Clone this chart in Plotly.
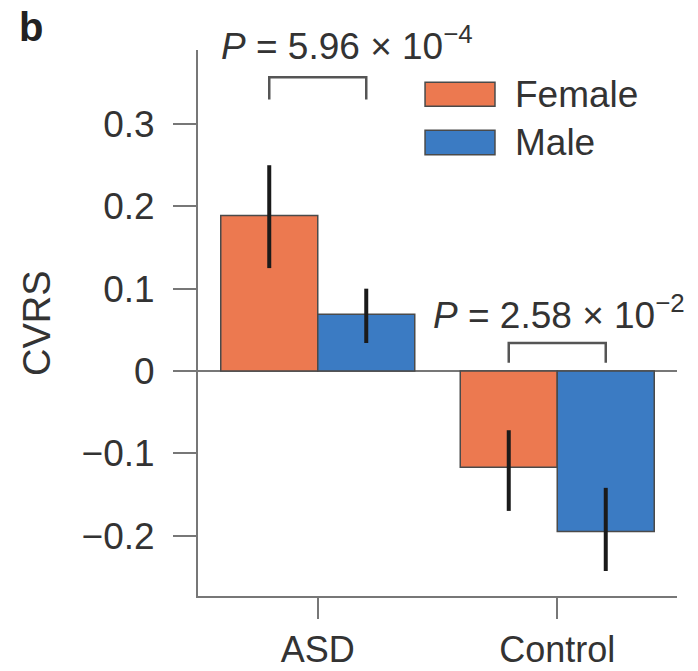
import plotly.graph_objects as go

# CVRS by diagnosis group and sex
groups = ["ASD", "Control"]
female_cvrs = [0.189, -0.117]
male_cvrs = [0.069, -0.195]
female_err_up = [0.061, 0.045]
female_err_down = [0.064, 0.053]
male_err_up = [0.031, 0.053]
male_err_down = [0.035, 0.048]
y_ticks = [-0.2, -0.1, 0, 0.1, 0.2, 0.3]
y_tick_labels = ["\u22120.2", "\u22120.1", "0", "0.1", "0.2", "0.3"]
p_labels = ["<i>P</i> = 5.96 \u00d7 10<sup>\u22124</sup>",
            "<i>P</i> = 2.58 \u00d7 10<sup>\u22122</sup>"]

ORANGE = "#EC7950"
BLUE = "#3B7BC3"
AXIS = "#777777"
TEXT = "#333333"
FONT = "Liberation Sans, Arial, sans-serif"
BARGAP = 0.19

fig = go.Figure()
fig.add_trace(go.Bar(
    x=groups, y=female_cvrs, name="Female",
    marker=dict(color=ORANGE, line=dict(color="#4a4a4a", width=1.5)),
    error_y=dict(type="data", symmetric=False, array=female_err_up,
                 arrayminus=female_err_down, color="#1a1a1a", thickness=4, width=0),
    showlegend=False,
))
fig.add_trace(go.Bar(
    x=groups, y=male_cvrs, name="Male",
    marker=dict(color=BLUE, line=dict(color="#4a4a4a", width=1.5)),
    error_y=dict(type="data", symmetric=False, array=male_err_up,
                 arrayminus=male_err_down, color="#1a1a1a", thickness=4, width=0),
    showlegend=False,
))

# significance brackets between the two bar centres of each group
half = (1 - BARGAP) / 4
brackets = [(0, 0.357, 0.330), (1, 0.034, 0.010)]
for xc, ytop, yleg in brackets:
    fig.add_shape(type="path", xref="x", yref="y",
                  path=f"M {xc - half} {yleg} L {xc - half} {ytop} L {xc + half} {ytop} L {xc + half} {yleg}",
                  line=dict(color="#555555", width=2.5))

fig.add_annotation(text=p_labels[0], xref="paper", yref="paper", x=0.311, y=1.012,
                   xanchor="center", yanchor="middle", showarrow=False,
                   font=dict(size=37, color=TEXT, family=FONT))
fig.add_annotation(text=p_labels[1], xref="paper", yref="paper", x=0.754, y=0.52,
                   xanchor="center", yanchor="middle", showarrow=False,
                   font=dict(size=37, color=TEXT, family=FONT))

# legend drawn as swatches + labels
legend_items = [("Female", ORANGE, 0.941, 0.897), ("Male", BLUE, 0.853, 0.808)]
for label, col, y1, y0 in legend_items:
    fig.add_shape(type="rect", xref="paper", yref="paper",
                  x0=0.474, x1=0.620, y0=y0, y1=y1,
                  fillcolor=col, line=dict(color="#4a4a4a", width=1.5))
    fig.add_annotation(text=label, xref="paper", yref="paper", x=0.658, y=(y0 + y1) / 2,
                       xanchor="left", yanchor="middle", showarrow=False,
                       font=dict(size=37, color=TEXT, family=FONT))

# y-axis title and panel letter
fig.add_annotation(text="CVRS", xref="paper", yref="paper", x=-0.336, y=0.5,
                   textangle=-90, xanchor="center", yanchor="middle", showarrow=False,
                   font=dict(size=38, color=TEXT, family=FONT))
fig.add_annotation(text="<b>b</b>", xref="paper", yref="paper", x=-0.377, y=1.043,
                   xanchor="left", yanchor="middle", showarrow=False,
                   font=dict(size=40, color="#222222", family=FONT))

fig.update_layout(
    width=698, height=671,
    margin=dict(l=198, r=21, t=50, b=75, autoexpand=False),
    paper_bgcolor="white", plot_bgcolor="white",
    barmode="group", bargap=BARGAP, bargroupgap=0,
    font=dict(family=FONT, size=37, color=TEXT),
)
fig.update_xaxes(
    automargin=False,
    showline=True, linecolor=AXIS, linewidth=2, mirror=False,
    ticks="outside", ticklen=21, tickwidth=2, tickcolor=AXIS,
    ticklabelstandoff=0, showgrid=False, range=[-0.5, 1.5],
    tickfont=dict(size=36, color=TEXT, family=FONT),
)
fig.update_yaxes(
    automargin=False,
    range=[-0.2734, 0.390], tickvals=y_ticks, ticktext=y_tick_labels,
    showline=True, linecolor=AXIS, linewidth=2,
    ticks="outside", ticklen=23, tickwidth=2, tickcolor=AXIS,
    ticklabelstandoff=11, showgrid=False,
    zeroline=True, zerolinecolor=AXIS, zerolinewidth=2,
    tickfont=dict(size=37, color=TEXT, family=FONT),
)

fig.write_html("out.html")
